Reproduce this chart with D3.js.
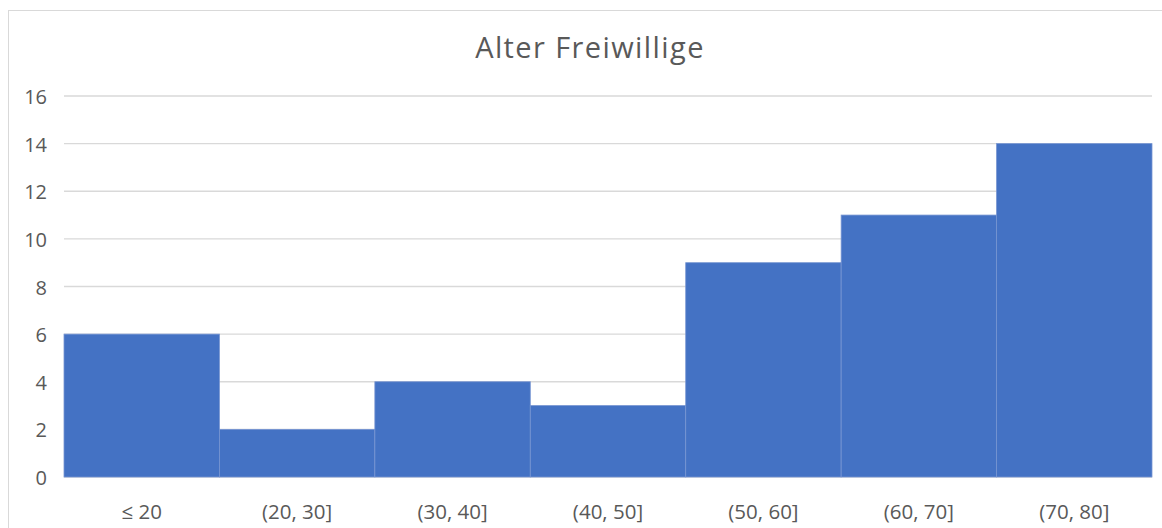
<!DOCTYPE html>
<html>
<head>
<meta charset="utf-8">
<script src="https://cdn.jsdelivr.net/npm/d3@7"></script>
<style>
  html, body { margin: 0; padding: 0; background: #fff; }
  svg { display: block; }
  text { font-family: "Open Sans", "Noto Sans", sans-serif; fill: #595959; }
</style>
</head>
<body>
<script>
// Age groups of volunteers (histogram bins) and their counts
const categories = ["≤ 20", "(20, 30]", "(30, 40]", "(40, 50]", "(50, 60]", "(60, 70]", "(70, 80]"];
const counts = [6, 2, 4, 3, 9, 11, 14];
const yTicks = [0, 2, 4, 6, 8, 10, 12, 14, 16];
const title = "Alter Freiwillige";

const W = 1162, H = 528;
const margin = { left: 64, right: 10, top: 96, bottom: 51 };

const svg = d3.select("body").append("svg").attr("width", W).attr("height", H);

// chart frame
svg.append("rect")
  .attr("x", 8.5).attr("y", 10.5)
  .attr("width", W + 20).attr("height", H + 20)
  .attr("fill", "none").attr("stroke", "#d9d9d9").attr("stroke-width", 1);

const x = d3.scaleBand()
  .domain(categories)
  .range([margin.left, W - margin.right])
  .padding(0);

const y = d3.scaleLinear()
  .domain([0, 16])
  .range([H - margin.bottom, margin.top]);

// horizontal gridlines
svg.append("g")
  .selectAll("line")
  .data(yTicks)
  .join("line")
  .attr("x1", margin.left).attr("x2", W - margin.right)
  .attr("y1", d => y(d)).attr("y2", d => y(d))
  .attr("stroke", "#d9d9d9").attr("stroke-width", 1.3);

// bars
svg.append("g")
  .selectAll("rect")
  .data(counts)
  .join("rect")
  .attr("x", (d, i) => x(categories[i]))
  .attr("y", d => y(d))
  .attr("width", x.bandwidth())
  .attr("height", d => y(0) - y(d))
  .attr("fill", "#4472c4")
  .attr("stroke", "#7795d2")
  .attr("stroke-width", 0.8);

// y axis labels
const yAxis = d3.axisLeft(y).tickValues(yTicks).tickSize(0).tickPadding(0);
const gy = svg.append("g")
  .attr("transform", `translate(${margin.left - 17},0)`)
  .call(yAxis);
gy.select(".domain").remove();
gy.selectAll("text")
  .attr("font-size", 20)
  .attr("dy", "0.38em")
  .attr("font-family", "'Open Sans', sans-serif")
  .attr("fill", "#595959");

// x axis labels
const xAxis = d3.axisBottom(x).tickSize(0).tickPadding(0);
const gx = svg.append("g")
  .attr("transform", `translate(0,${H - margin.bottom})`)
  .call(xAxis);
gx.select(".domain").remove();
gx.selectAll("text")
  .attr("font-size", 20.5)
  .attr("y", 42)
  .attr("dy", null)
  .attr("font-family", "'Open Sans', sans-serif")
  .attr("fill", "#595959");

// title
svg.append("text")
  .attr("x", 590)
  .attr("y", 58)
  .attr("text-anchor", "middle")
  .attr("font-size", 29)
  .attr("letter-spacing", 1.4)
  .text(title);
</script>
</body>
</html>
